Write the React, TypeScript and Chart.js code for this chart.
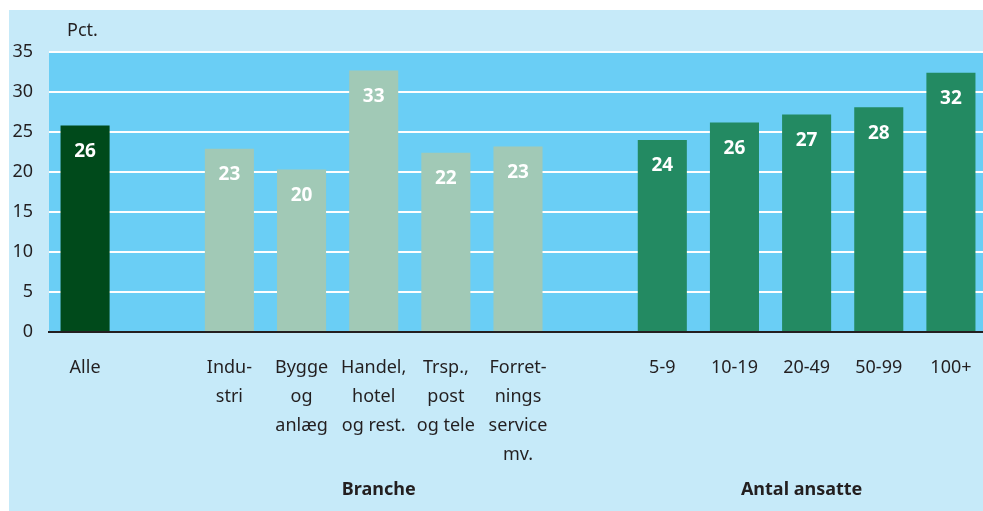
import React, { useEffect, useRef } from "react";
import { Chart, registerables } from "chart.js";

Chart.register(...registerables);

const categories: string[][] = [
  ["Alle"],
  [""],
  ["Indu-", "stri"],
  ["Bygge", "og", "anlæg"],
  ["Handel,", "hotel", "og rest."],
  ["Trsp.,", "post", "og tele"],
  ["Forret-", "nings", "service", "mv."],
  [""],
  ["5-9"],
  ["10-19"],
  ["20-49"],
  ["50-99"],
  ["100+"],
];

const values: (number | null)[] = [25.8, null, 22.9, 20.3, 32.7, 22.4, 23.2, null, 24.0, 26.2, 27.2, 28.1, 32.4];

const barColors: string[] = [
  "#004a1b", "#000000",
  "#a1c9b6", "#a1c9b6", "#a1c9b6", "#a1c9b6", "#a1c9b6",
  "#000000",
  "#238a62", "#238a62", "#238a62", "#238a62", "#238a62",
];

const groupTitles: string[] = ["Branche", "Antal ansatte"];
const groupRanges: number[][] = [[2, 6], [8, 12]];

const yTicks: number[] = [0, 5, 10, 15, 20, 25, 30, 35];
const unitLabel = "Pct.";

const FONT = "'Noto Sans', 'Open Sans', sans-serif";
const TEXT = "#231f20";

export default function App() {
  const ref = useRef<HTMLCanvasElement | null>(null);

  useEffect(() => {
    if (!ref.current) return;

    const bgPlugin = {
      id: "plotBg",
      beforeDraw(chart: any) {
        const { ctx, chartArea } = chart;
        ctx.save();
        ctx.fillStyle = "#6acef5";
        ctx.fillRect(chartArea.left, chartArea.top, chartArea.right - chartArea.left, chartArea.bottom - chartArea.top);
        ctx.restore();
      },
    };

    const groupOffsets = [5, -5];

    const textPlugin = {
      id: "texts",
      afterDatasetsDraw(chart: any) {
        const { ctx } = chart;
        const meta = chart.getDatasetMeta(0);
        ctx.save();
        ctx.fillStyle = "#ffffff";
        ctx.font = `bold 19px ${FONT}`;
        ctx.textAlign = "center";
        ctx.textBaseline = "middle";
        meta.data.forEach((bar: any, i: number) => {
          const v = values[i];
          if (v == null) return;
          ctx.fillText(String(Math.round(v)), bar.x, bar.y + 26);
        });
        ctx.restore();
      },
      afterDraw(chart: any) {
        const { ctx, chartArea } = chart;
        const xs = chart.scales.x;
        ctx.save();
        ctx.fillStyle = TEXT;
        ctx.font = `18px ${FONT}`;
        ctx.textAlign = "left";
        ctx.textBaseline = "middle";
        ctx.fillText(unitLabel, chartArea.left + 18, chartArea.top - 21);
        ctx.font = `bold 18px ${FONT}`;
        ctx.textAlign = "center";
        groupTitles.forEach((t, g) => {
          const [a, b] = groupRanges[g];
          const cx = (xs.getPixelForValue(a) + xs.getPixelForValue(b)) / 2 + groupOffsets[g];
          ctx.fillText(t, cx, chart.height - 21);
        });
        ctx.restore();
      },
    };

    const chart = new Chart(ref.current, {
      type: "bar",
      data: {
        labels: categories,
        datasets: [
          {
            data: values,
            backgroundColor: barColors,
            barPercentage: 0.68,
            categoryPercentage: 1,
            borderWidth: 0,
          },
        ],
      },
      options: {
        animation: false,
        responsive: false,
        maintainAspectRatio: false,
        layout: { padding: { top: 42, left: 0, right: 0, bottom: 0 } },
        plugins: {
          legend: { display: false },
          tooltip: { enabled: false },
          title: { display: false },
        },
        scales: {
          x: {
            grid: { display: false, drawTicks: false },
            border: { display: true, color: "#231f20", width: 2 },
            ticks: {
              autoSkip: false,
              maxRotation: 0,
              minRotation: 0,
              padding: 21,
              color: TEXT,
              font: { family: FONT, size: 18, lineHeight: 29 / 18 },
            },
            afterFit(scale: any) {
              scale.height = 179;
              scale.paddingLeft = 0;
              scale.paddingRight = 0;
            },
          },
          y: {
            min: 0,
            max: 35,
            afterBuildTicks(scale: any) {
              scale.ticks = yTicks.map((v) => ({ value: v }));
            },
            grid: {
              color: "#ffffff",
              lineWidth: 2,
              drawTicks: false,
            },
            border: { display: false },
            ticks: {
              padding: 16,
              color: TEXT,
              font: { family: FONT, size: 18 },
            },
            afterFit(scale: any) {
              scale.width = 40;
              scale.paddingTop = 0;
              scale.paddingBottom = 0;
            },
          },
        },
      },
      plugins: [bgPlugin, textPlugin],
    });

    return () => chart.destroy();
  }, []);

  return (
    <div style={{ position: "fixed", left: 0, top: 0, width: "100vw", height: "100vh", overflow: "hidden", background: "#ffffff" }}>
      <div style={{ position: "absolute", left: 9, top: 10, width: 978, height: 501, background: "#c6eaf9" }}>
        <canvas ref={ref} width={978} height={501} style={{ display: "block", width: 978, height: 501 }} />
      </div>
    </div>
  );
}
